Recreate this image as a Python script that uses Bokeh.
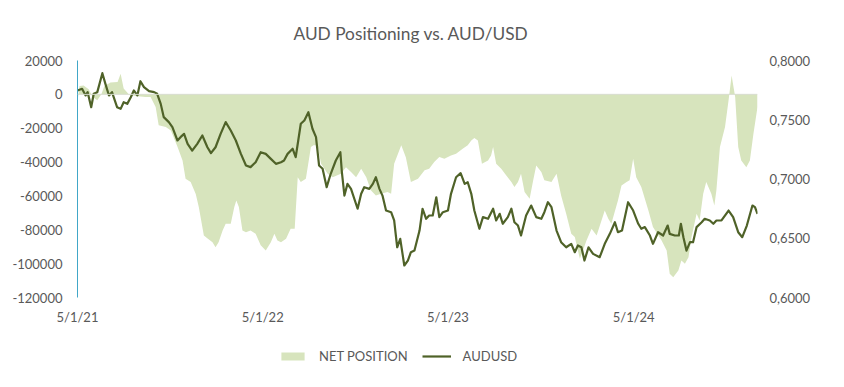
import pandas as pd
from bokeh.plotting import figure
from bokeh.layouts import column
from bokeh.models import (Range1d, LinearAxis, FixedTicker, CustomJSTickFormatter,
                          Legend, LegendItem, Span, ColumnDataSource)
from bokeh.embed import file_html
from bokeh.resources import INLINE

# ---------------- data ----------------
net_dates = [
    "2021-05-01", "2021-05-05", "2021-05-13", "2021-05-23", "2021-05-31", "2021-06-09", "2021-06-17",
    "2021-06-23", "2021-07-05", "2021-07-19", "2021-07-25", "2021-07-31", "2021-08-10", "2021-08-23",
    "2021-09-12", "2021-09-22", "2021-10-02", "2021-10-08", "2021-10-22", "2021-11-01", "2021-11-14",
    "2021-11-24", "2021-11-30", "2021-12-10", "2021-12-20", "2021-12-26", "2022-01-05", "2022-01-13",
    "2022-01-22", "2022-01-28", "2022-02-03", "2022-02-11", "2022-02-17", "2022-02-27", "2022-03-06",
    "2022-03-10", "2022-03-15", "2022-03-22", "2022-03-29", "2022-04-07", "2022-04-17", "2022-04-27",
    "2022-05-07", "2022-05-17", "2022-05-24", "2022-05-30", "2022-06-06", "2022-06-16", "2022-06-25",
    "2022-07-03", "2022-07-09", "2022-07-15", "2022-07-25", "2022-08-04", "2022-08-09", "2022-08-17",
    "2022-08-24", "2022-09-06", "2022-09-16", "2022-10-02", "2022-10-12", "2022-10-22", "2022-11-01",
    "2022-11-11", "2022-11-21", "2022-11-30", "2022-12-10", "2022-12-20", "2023-01-02", "2023-01-09",
    "2023-01-15", "2023-01-29", "2023-02-07", "2023-02-17", "2023-03-03", "2023-03-16", "2023-03-25",
    "2023-04-04", "2023-04-14", "2023-04-24", "2023-05-07", "2023-05-17", "2023-05-30", "2023-06-09",
    "2023-06-16", "2023-06-22", "2023-06-29", "2023-07-07", "2023-07-19", "2023-07-25", "2023-07-29",
    "2023-08-04", "2023-08-14", "2023-08-24", "2023-09-03", "2023-09-09", "2023-09-16", "2023-09-22",
    "2023-09-29", "2023-10-09", "2023-10-16", "2023-10-22", "2023-11-01", "2023-11-07", "2023-11-21",
    "2023-12-01", "2023-12-10", "2023-12-20", "2023-12-30", "2024-01-06", "2024-01-12", "2024-01-16",
    "2024-01-22", "2024-01-29", "2024-02-08", "2024-02-18", "2024-03-05", "2024-03-12", "2024-03-18",
    "2024-03-31", "2024-04-07", "2024-04-17", "2024-04-23", "2024-04-30", "2024-05-06", "2024-05-16",
    "2024-05-30", "2024-06-08", "2024-06-25", "2024-07-05", "2024-07-11", "2024-07-18", "2024-07-28",
    "2024-08-03", "2024-08-10", "2024-08-17", "2024-08-23", "2024-09-02", "2024-09-08", "2024-09-15",
    "2024-09-21", "2024-10-01", "2024-10-07", "2024-10-11", "2024-10-18", "2024-10-28", "2024-11-04",
    "2024-11-10", "2024-11-17", "2024-11-23", "2024-11-29", "2024-12-09", "2024-12-16", "2024-12-23",
    "2024-12-31",
]
net_position = [
    -4000, 5000, 5300, 3000, -1500, -3500, 0,
    5000, 7000, 7300, 12200, 3500, 0, -1000,
    -1500, -1500, -7500, -18300, -19300, -21300, -31000,
    -39000, -49800, -51800, -58800, -66600, -83400, -85300,
    -87300, -90300, -87300, -80400, -76400, -76400, -66600,
    -62700, -66600, -80400, -81400, -80400, -82300, -89200,
    -92200, -87300, -82300, -86300, -87300, -85300, -79400,
    -79400, -48900, -51800, -49800, -31100, -30100, -30100,
    -41000, -46900, -48900, -46900, -43000, -45900, -48900,
    -43900, -48900, -56700, -59700, -58700, -57700, -58700,
    -41000, -30100, -37100, -51800, -49800, -44900, -43900,
    -40000, -37000, -38000, -36100, -35100, -32100, -30100,
    -27200, -25800, -27200, -41000, -39000, -36100, -31100,
    -41000, -43900, -47900, -51800, -54700, -51800, -46900,
    -57700, -61600, -50800, -42000, -45900, -50800, -51800,
    -46900, -59700, -70500, -82300, -84300, -92200, -97100,
    -92200, -86300, -79400, -83400, -68600, -73500, -76500,
    -62700, -53800, -51800, -50800, -38000, -48900, -54700,
    -68600, -78400, -86300, -92200, -106000, -108000, -104000,
    -98100, -100000, -96200, -84300, -70500, -74500, -58700,
    -51800, -58700, -65600, -56700, -31100, -19300, -3500,
    11200, -1600, -31100, -39000, -43000, -39000, -23200,
    -7500,
]

aud_dates = [
    "2021-05-01", "2021-05-10", "2021-05-17", "2021-05-21", "2021-05-28", "2021-06-02", "2021-06-09",
    "2021-06-19", "2021-06-25", "2021-07-02", "2021-07-08", "2021-07-18", "2021-07-25", "2021-07-31",
    "2021-08-07", "2021-08-14", "2021-08-20", "2021-08-27", "2021-09-02", "2021-09-09", "2021-09-19",
    "2021-09-29", "2021-10-05", "2021-10-12", "2021-10-18", "2021-10-28", "2021-11-04", "2021-11-14",
    "2021-11-20", "2021-11-27", "2021-12-04", "2021-12-13", "2021-12-23", "2022-01-02", "2022-01-12",
    "2022-01-19", "2022-01-28", "2022-02-07", "2022-02-17", "2022-02-27", "2022-03-09", "2022-03-19",
    "2022-03-29", "2022-04-07", "2022-04-17", "2022-04-27", "2022-05-07", "2022-05-17", "2022-05-27",
    "2022-06-06", "2022-06-12", "2022-06-19", "2022-06-29", "2022-07-05", "2022-07-10", "2022-07-15",
    "2022-07-22", "2022-07-30", "2022-08-07", "2022-08-14", "2022-08-20", "2022-08-27", "2022-09-04",
    "2022-09-12", "2022-09-22", "2022-10-01", "2022-10-04", "2022-10-09", "2022-10-15", "2022-10-22",
    "2022-11-04", "2022-11-11", "2022-11-17", "2022-11-27", "2022-12-04", "2022-12-10", "2022-12-17",
    "2022-12-23", "2022-12-30", "2023-01-09", "2023-01-15", "2023-01-21", "2023-01-27", "2023-02-04",
    "2023-02-11", "2023-02-17", "2023-02-24", "2023-03-06", "2023-03-12", "2023-03-19", "2023-03-25",
    "2023-04-01", "2023-04-08", "2023-04-14", "2023-04-21", "2023-05-01", "2023-05-07", "2023-05-17",
    "2023-05-26", "2023-06-03", "2023-06-09", "2023-06-16", "2023-06-22", "2023-07-02", "2023-07-09",
    "2023-07-19", "2023-07-29", "2023-08-04", "2023-08-11", "2023-08-17", "2023-08-27", "2023-09-03",
    "2023-09-09", "2023-09-16", "2023-09-22", "2023-10-02", "2023-10-12", "2023-10-22", "2023-11-01",
    "2023-11-07", "2023-11-14", "2023-11-21", "2023-12-01", "2023-12-10", "2023-12-20", "2023-12-30",
    "2024-01-06", "2024-01-12", "2024-01-19", "2024-01-25", "2024-02-02", "2024-02-11", "2024-02-24",
    "2024-03-05", "2024-03-15", "2024-03-25", "2024-03-31", "2024-04-08", "2024-04-20", "2024-04-30",
    "2024-05-10", "2024-05-16", "2024-05-23", "2024-06-02", "2024-06-08", "2024-06-18", "2024-06-28",
    "2024-07-07", "2024-07-11", "2024-07-21", "2024-07-29", "2024-08-02", "2024-08-07", "2024-08-13",
    "2024-08-20", "2024-08-26", "2024-09-02", "2024-09-12", "2024-09-18", "2024-09-28", "2024-10-05",
    "2024-10-11", "2024-10-21", "2024-11-04", "2024-11-13", "2024-11-23", "2024-12-01", "2024-12-10",
    "2024-12-21", "2024-12-26", "2024-12-31",
]
audusd = [
    0.7747, 0.7761, 0.7705, 0.7733, 0.7606, 0.7719, 0.7733,
    0.7893, 0.7803, 0.7705, 0.7733, 0.7606, 0.7592, 0.7648,
    0.7634, 0.7690, 0.7747, 0.7705, 0.7825, 0.7775, 0.7741,
    0.7733, 0.7719, 0.7634, 0.7522, 0.7480, 0.7437, 0.7325,
    0.7353, 0.7381, 0.7297, 0.7240, 0.7297, 0.7367, 0.7268,
    0.7218, 0.7268, 0.7381, 0.7480, 0.7409, 0.7325, 0.7212,
    0.7114, 0.7100, 0.7142, 0.7226, 0.7212, 0.7170, 0.7128,
    0.7142, 0.7156, 0.7212, 0.7255, 0.7184, 0.7325, 0.7466,
    0.7494, 0.7564, 0.7424, 0.7353, 0.7114, 0.7086, 0.6931,
    0.7044, 0.7156, 0.7226, 0.7057, 0.6860, 0.6959, 0.6917,
    0.6749, 0.6875, 0.6931, 0.6917, 0.6959, 0.7015, 0.6917,
    0.6860, 0.6734, 0.6720, 0.6650, 0.6424, 0.6495, 0.6270,
    0.6312, 0.6382, 0.6396, 0.6565, 0.6749, 0.6664, 0.6692,
    0.6692, 0.6846, 0.6678, 0.6720, 0.6734, 0.6875, 0.7015,
    0.7049, 0.6959, 0.6973, 0.6875, 0.6734, 0.6580, 0.6678,
    0.6664, 0.6749, 0.6650, 0.6706, 0.6622, 0.6678, 0.6749,
    0.6635, 0.6607, 0.6523, 0.6692, 0.6776, 0.6678, 0.6664,
    0.6720, 0.6804, 0.6762, 0.6565, 0.6467, 0.6424, 0.6453,
    0.6382, 0.6439, 0.6424, 0.6312, 0.6424, 0.6368, 0.6340,
    0.6453, 0.6537, 0.6635, 0.6551, 0.6565, 0.6804, 0.6734,
    0.6622, 0.6580, 0.6594, 0.6523, 0.6453, 0.6551, 0.6523,
    0.6607, 0.6537, 0.6523, 0.6523, 0.6622, 0.6509, 0.6396,
    0.6467, 0.6467, 0.6594, 0.6635, 0.6664, 0.6650, 0.6622,
    0.6650, 0.6650, 0.6734, 0.6678, 0.6551, 0.6509, 0.6607,
    0.6776, 0.6762, 0.6706,
]

x_tick_dates = ["2021-05-01", "2022-05-01", "2023-05-01", "2024-05-01"]
left_ticks = [-120000, -100000, -80000, -60000, -40000, -20000, 0, 20000]
right_ticks = [0.60, 0.65, 0.70, 0.75, 0.80]

title_text = "AUD Positioning vs. AUD/USD"
series_names = ["NET POSITION", "AUDUSD"]

# ---------------- styling ----------------
FONT = "Lato"
TXT = "#595959"
AREA_COLOR = "#D7E4BD"
LINE_COLOR = "#4F6228"
AXIS_COLOR = "#41A7C8"

net_src = ColumnDataSource(dict(date=pd.to_datetime(net_dates), val=net_position))
aud_src = ColumnDataSource(dict(date=pd.to_datetime(aud_dates), val=audusd))

x_start = pd.Timestamp(net_dates[0])
x_end = pd.Timestamp(net_dates[-1])

p = figure(width=828, height=332, x_axis_type="datetime",
           x_range=Range1d(x_start, x_end), y_range=Range1d(-120000, 20000),
           output_backend="svg", toolbar_location=None,
           min_border_left=77, min_border_right=71, min_border_top=60, min_border_bottom=35)
p.extra_y_ranges = {"aud": Range1d(0.60, 0.80)}

p.outline_line_color = None
p.grid.grid_line_color = None
p.background_fill_color = "white"
p.border_fill_color = "white"

p.title.text = title_text
p.title.align = "left"
p.title.offset = 216
p.title.standoff = 33
p.title.text_font = FONT
p.title.text_font_size = "17.3px"
p.title.text_font_style = "normal"
p.title.text_color = TXT

p.varea(x="date", y1=0, y2="val", source=net_src, fill_color=AREA_COLOR)
p.add_layout(Span(location=0, dimension="width", line_color="#D9DDD0", line_width=1))
p.line(x="date", y="val", source=aud_src, y_range_name="aud",
       line_color=LINE_COLOR, line_width=2.2, line_join="round")

# x axis
xa = p.xaxis[0]
xa.ticker = FixedTicker(ticks=[pd.Timestamp(t).value / 1e6 for t in x_tick_dates])
xa.formatter = CustomJSTickFormatter(code="""
    const d = new Date(tick);
    return (d.getUTCMonth() + 1) + '/' + d.getUTCDate() + '/' + String(d.getUTCFullYear()).slice(2);
""")
xa.axis_line_color = None
xa.major_tick_line_color = None
xa.minor_tick_line_color = None
xa.major_tick_out = 0
xa.major_label_standoff = 11

# left axis
ya = p.yaxis[0]
ya.ticker = FixedTicker(ticks=left_ticks)
ya.formatter = CustomJSTickFormatter(code="return tick.toFixed(0);")
ya.axis_line_color = AXIS_COLOR
ya.axis_line_width = 1
ya.major_tick_line_color = None
ya.minor_tick_line_color = None
ya.major_tick_out = 0
ya.major_label_standoff = 15

# right axis
ra = LinearAxis(y_range_name="aud", ticker=FixedTicker(ticks=right_ticks),
                formatter=CustomJSTickFormatter(code="return tick.toFixed(4).replace('.', ',');"))
ra.axis_line_color = None
ra.major_tick_line_color = None
ra.minor_tick_line_color = None
ra.major_tick_out = 0
ra.major_label_standoff = 12
p.add_layout(ra, "right")

for ax in (xa, ya, ra):
    ax.major_label_text_font = FONT
    ax.major_label_text_font_size = "13px"
    ax.major_label_text_color = TXT

# ---------------- legend strip ----------------
lg = figure(width=828, height=39, output_backend="svg", toolbar_location=None,
            x_range=Range1d(0, 1), y_range=Range1d(0, 1),
            min_border_left=0, min_border_right=0, min_border_top=0, min_border_bottom=0)
lg.axis.visible = False
lg.grid.grid_line_color = None
lg.outline_line_color = None
lg.border_fill_color = "white"
# legend keys only: zero-size proxies so that the legend can draw its swatches
key_area = lg.varea(x=[0], y1=[0], y2=[0], fill_color=AREA_COLOR)
key_line = lg.line(x=[0], y=[0], line_color=LINE_COLOR, line_width=2.2)

legend = Legend(items=[LegendItem(label=series_names[0], renderers=[key_area]),
                       LegendItem(label=series_names[1], renderers=[key_line])],
                orientation="horizontal", location=(201, 7),
                glyph_width=29, glyph_height=10, label_standoff=12, spacing=14,
                padding=0, margin=0, border_line_color=None, background_fill_alpha=0,
                label_text_font=FONT, label_text_font_size="13px", label_text_color=TXT)
lg.add_layout(legend)

layout = column(p, lg, spacing=0)
open("out.html", "w").write(file_html(layout, INLINE))
